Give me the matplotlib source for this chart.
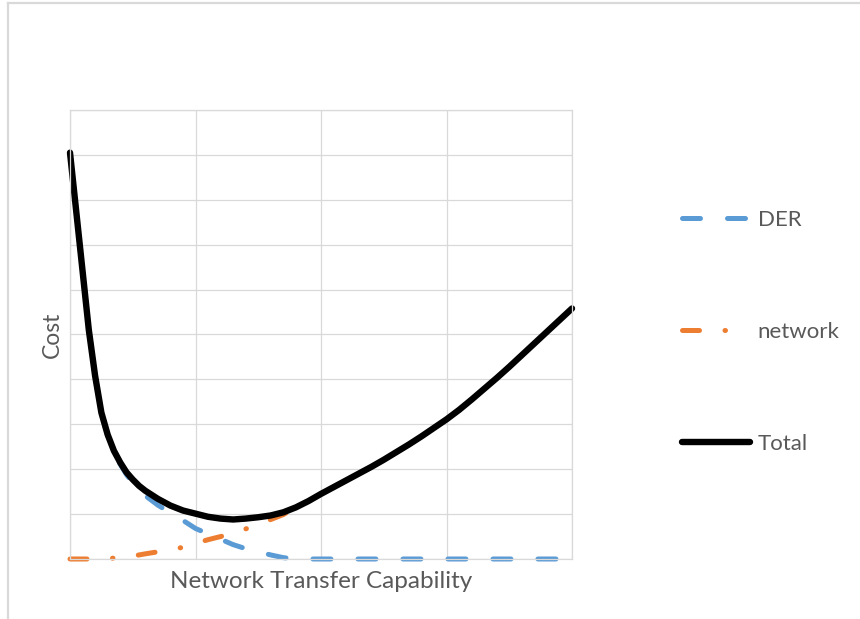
import matplotlib
matplotlib.use("Agg")
import matplotlib.pyplot as plt
from matplotlib.lines import Line2D

plt.rcParams['font.family'] = ['Lato', 'DejaVu Sans']

# values (x: 0..20, y: 0..100)
x_vals = [0, 0.75, 1, 1.25, 1.5, 1.75, 2, 2.25, 2.5, 2.75, 3, 3.5, 4, 4.5, 5, 5.5, 6, 6.5,
          7, 7.5, 8, 8.5, 9, 9.5, 10, 10.5, 11, 11.5, 12, 12.5, 13, 13.5, 14, 14.5, 15,
          15.5, 16, 16.5, 17, 17.5, 18, 18.5, 19, 19.5, 20]
total = [90.5, 51.0, 40.8, 32.6, 27.7, 24.1, 21.5, 19.3, 17.7, 16.3, 15.2, 13.4, 11.9, 10.8,
         10.1, 9.4, 9.0, 8.8, 9.0, 9.3, 9.7, 10.4, 11.5, 12.9, 14.5, 16.0, 17.5, 19.0, 20.5,
         22.1, 23.8, 25.5, 27.3, 29.2, 31.1, 33.2, 35.5, 37.9, 40.3, 42.8, 45.4, 48.0,
         50.6, 53.2, 55.8]
der = [90.5, 51.0, 40.8, 32.6, 27.6, 23.9, 21.1, 18.8, 17.0, 15.4, 14.1, 12.0, 10.3, 8.6,
       6.8, 5.6, 4.4, 3.2, 2.3, 1.6, 0.9, 0.3, 0, 0, 0, 0, 0, 0, 0, 0, 0, 0, 0, 0, 0,
       0, 0, 0, 0, 0, 0, 0, 0, 0, 0]
network = [0, 0, 0, 0, 0.1, 0.2, 0.35, 0.5, 0.7, 0.9, 1.15, 1.6, 2.1, 2.6, 3.5, 4.3, 5.0,
           5.8, 6.7, 7.8, 8.8, 9.9, 11.5, 12.9, 14.5, 16.0, 17.5, 19.0, 20.5, 22.1, 23.8,
           25.5, 27.3, 29.2, 31.1, 33.2, 35.5, 37.9, 40.3, 42.8, 45.4, 48.0, 50.6, 53.2,
           55.8]

series_names = ['DER', 'network', 'Total']
x_label = 'Network Transfer Capability'
y_label = 'Cost'

W, H = 860, 619
fig = plt.figure(figsize=(W / 100, H / 100), dpi=100)
ax = fig.add_axes([70 / W, 1 - 559 / H, (572 - 70) / W, (559 - 110) / H])

grid_col = '#D9D9D9'
text_col = '#595959'

ax.plot(x_vals, der, color='#5B9BD5', lw=3.6, dashes=(3.6, 5.4),
        dash_capstyle='round', dash_joinstyle='round', clip_on=False,
        label=series_names[0])
ax.plot(x_vals, network, color='#ED7D31', lw=3.6, dashes=(3.4, 5.1, 0.1, 5.1),
        dash_capstyle='round', dash_joinstyle='round', clip_on=False,
        label=series_names[1])
ax.plot(x_vals, total, color='black', lw=4.6, solid_capstyle='round',
        solid_joinstyle='round', clip_on=False, label=series_names[2])

ax.set_xlim(0, 20)
ax.set_ylim(0, 100)
ax.set_xticks([0, 5, 10, 15, 20])
ax.set_yticks(range(0, 101, 10))
ax.set_xticklabels([])
ax.set_yticklabels([])
ax.tick_params(length=0)
ax.grid(True, color=grid_col, lw=0.9)
ax.set_axisbelow(True)
for sp in ax.spines.values():
    sp.set_color(grid_col)
    sp.set_linewidth(0.9)

ax.set_xlabel(x_label, fontsize=17.5, color=text_col, labelpad=5.5)
ax.set_ylabel(y_label, fontsize=16.5, color=text_col, labelpad=1.5)

leg = ax.legend(loc='center left', bbox_to_anchor=(682 / W, 1 - 332 / H),
                bbox_transform=fig.transFigure, frameon=False, fontsize=16,
                handlelength=3.06, handletextpad=0.35, labelspacing=4.13,
                borderpad=0, borderaxespad=0)
for t in leg.get_texts():
    t.set_color(text_col)

# chart area border (top and left edges visible)
fig.add_artist(Line2D([8 / W, 1], [1 - 3 / H, 1 - 3 / H], color=grid_col, lw=1.6,
                      transform=fig.transFigure))
fig.add_artist(Line2D([8 / W, 8 / W], [0, 1 - 3 / H], color=grid_col, lw=1.6,
                      transform=fig.transFigure))

plt.savefig('out.png', dpi=100)
